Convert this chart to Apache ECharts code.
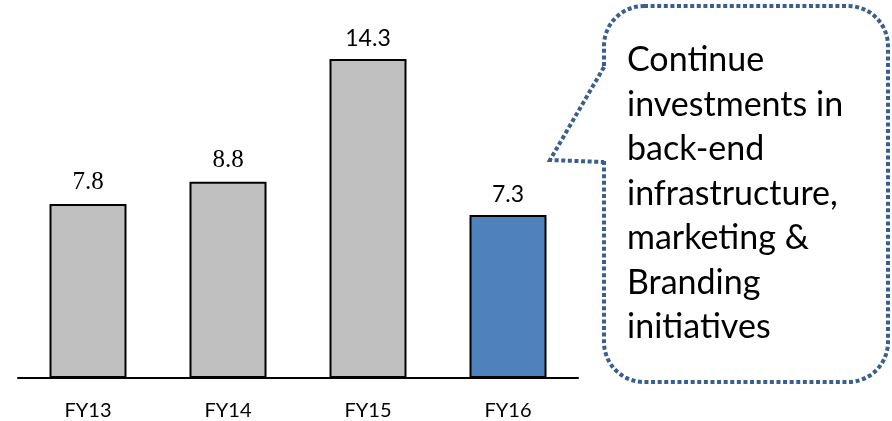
<!DOCTYPE html>
<html>
<head>
<meta charset="utf-8">
<script src="https://cdn.jsdelivr.net/npm/echarts@6/dist/echarts.min.js"></script>
<style>
  html, body { margin: 0; padding: 0; background: #ffffff; }
  #chart { width: 892px; height: 421px; }
</style>
</head>
<body>
<div id="chart"></div>
<script>
// Fiscal-year values shown as bars
var categories = ['FY13', 'FY14', 'FY15', 'FY16'];
var values = [7.8, 8.8, 14.3, 7.3];
// Label fonts differ per bar (older years set in a serif face)
var labelFonts = ['Liberation Serif', 'Liberation Serif', 'Lato', 'Lato'];
var labelSizes = [25, 25, 23, 23];
var barColors = ['#c0c0c0', '#c0c0c0', '#c0c0c0', '#4f81bd'];
// Callout text, one entry per line
var calloutLines = ['Continue', 'investments in', 'back-end', 'infrastructure,', 'marketing &', 'Branding', 'initiatives'];

var chart = echarts.init(document.getElementById('chart'), null, { renderer: 'canvas' });

var barData = values.map(function (v, i) {
  return {
    value: v,
    itemStyle: { color: barColors[i] },
    label: {
      show: true,
      position: 'top',
      distance: 9,
      color: '#000000',
      fontFamily: labelFonts[i],
      fontSize: labelSizes[i]
    }
  };
});

var calloutStroke = {
  stroke: '#3a5f8e',
  lineWidth: 4,
  lineDash: [4, 2.6],
  lineCap: 'butt'
};

var option = {
  backgroundColor: '#ffffff',
  animation: false,
  grid: { left: 18, right: 314, top: 21, bottom: 43, containLabel: false },
  xAxis: {
    type: 'category',
    data: categories,
    axisLine: { show: true, lineStyle: { color: '#000000', width: 2 } },
    axisTick: { show: false },
    axisLabel: {
      color: '#000000',
      fontFamily: 'Lato',
      fontSize: 20,
      margin: 23
    }
  },
  yAxis: {
    type: 'value',
    min: 0,
    max: 16,
    show: false,
    splitLine: { show: false }
  },
  series: [{
    type: 'bar',
    data: barData,
    barWidth: 77,
    itemStyle: { borderColor: '#000000', borderWidth: 2 },
    label: { show: true, position: 'top' }
  }],
  graphic: [
    // rounded speech box
    {
      type: 'rect',
      shape: { x: 604, y: 6, width: 284, height: 376, r: 40 },
      style: Object.assign({ fill: '#ffffff' }, calloutStroke),
      z: 10
    },
    // opening in the left side where the pointer attaches
    {
      type: 'rect',
      shape: { x: 600, y: 69, width: 8, height: 91 },
      style: { fill: '#ffffff' },
      z: 11
    },
    // pointer towards the last bar
    {
      type: 'polyline',
      shape: { points: [[604, 67], [550, 160], [604, 162]] },
      style: Object.assign({ fill: null }, calloutStroke),
      z: 12
    },
    {
      type: 'text',
      left: 627,
      top: 38,
      style: {
        text: calloutLines.join('\n'),
        fontFamily: 'Lato',
        fontSize: 34,
        lineHeight: 44.5,
        fill: '#000000'
      },
      z: 13
    }
  ]
};

chart.setOption(option);
</script>
</body>
</html>
